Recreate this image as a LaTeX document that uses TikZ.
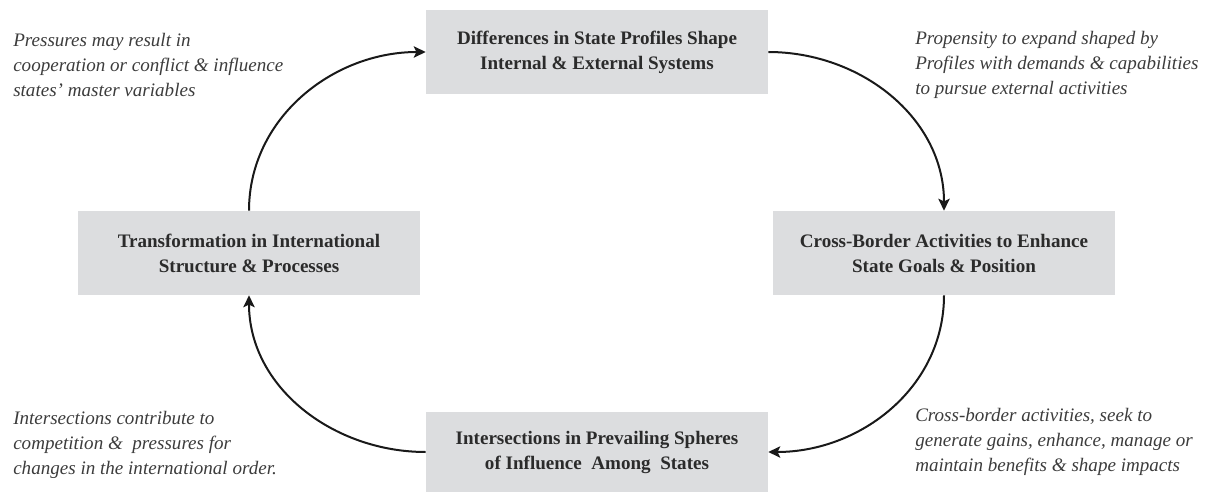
\documentclass[tikz,border=0pt]{standalone}
\usepackage{fontspec}
\setmainfont{Liberation Serif}
\usetikzlibrary{arrows.meta}
\definecolor{boxgray}{HTML}{DCDDDF}
\definecolor{inkgray}{HTML}{2B2B2B}
\definecolor{notegray}{HTML}{3C3C3C}
\tikzset{
	stage/.style={fill=boxgray, text=inkgray, align=center, inner sep=0pt,
		minimum width=256.5pt, minimum height=63pt,
		font=\fontsize{14.3}{18.75}\selectfont\bfseries},
	note/.style={text=notegray, align=left, inner sep=0pt, anchor=base west,
		font=\fontsize{14.3}{18.75}\selectfont\itshape},
	flow/.style={line width=1.5pt, color=black!90, -{Stealth[length=9pt,width=8.5pt,inset=2pt]}}
}
\begin{document}
\begin{tikzpicture}[x=0.75pt,y=-0.75pt]
			\useasboundingbox (0,0) rectangle (1211,492);
			\node[stage] (profiles) at (597,52) {Differences in State Profiles Shape\\Internal \& External Systems};
			\node[stage] (crossborder) at (944,253) {Cross-Border Activities to Enhance\\State Goals \& Position};
			\node[stage] (transform) at (249,253) {Transformation in International\\Structure \& Processes};
			\node[stage, minimum height=60pt] (spheres) at (597,452) {Intersections in Prevailing Spheres\\of Influence~ Among~ States};
			\node[note] (pressures) at (13,97) {Pressures may result in\\cooperation or conflict \& influence\\states' master variables};
			\node[note] (propensity) at (915,95) {Propensity to expand shaped by\\Profiles with demands \& capabilities\\to pursue external activities};
			\node[note] (intersect) at (13,474) {Intersections contribute to\\competition \&~ pressures for\\changes in the international order.};
			\node[note] (gains) at (915,471) {Cross-border activities, seek to\\generate gains, enhance, manage or\\maintain benefits \& shape impacts};
			\draw[flow] (transform.north) to[out=90,in=180] (profiles.west);
			\draw[flow] (profiles.east) to[out=0,in=90] (crossborder.north);
			\draw[flow] (crossborder.south) to[out=-90,in=0] (spheres.east);
			\draw[flow] (spheres.west) to[out=180,in=-90] (transform.south);
		\end{tikzpicture}
\end{document}
